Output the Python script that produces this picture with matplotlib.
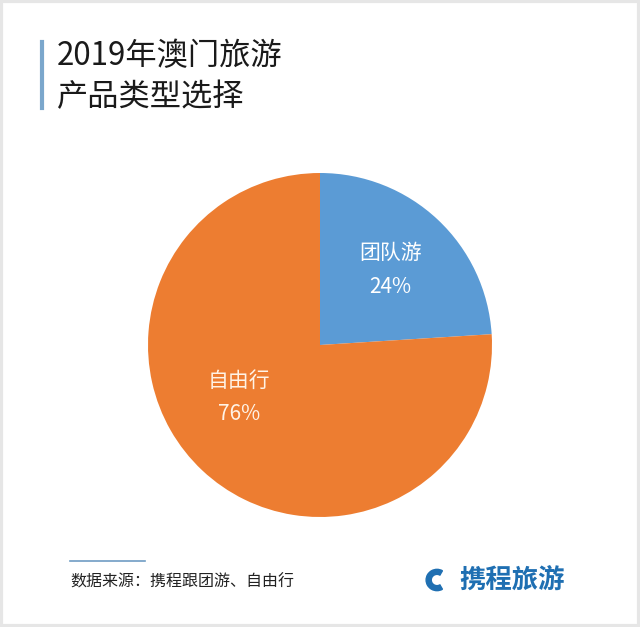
import matplotlib.pyplot as plt
from matplotlib.patches import Rectangle, Wedge
import numpy as np

plt.rcParams['font.family'] = ['Noto Sans CJK SC', 'DejaVu Sans']

# data
categories = ['团队游', '自由行']
shares = [24, 76]
colors = ['#5B9BD5', '#ED7D31']

W, H = 640, 627
fig = plt.figure(figsize=(W / 100, H / 100), dpi=100)
fig.patch.set_facecolor('white')

# light grey frame round the picture
fig.patches.append(Rectangle((0.002, 0.002), 0.996, 0.996, transform=fig.transFigure,
                             fill=False, edgecolor='#e6e6e6', linewidth=3))

# title with a blue bar on the left
fig.add_artist(plt.Line2D([42 / W, 42 / W], [1 - 42 / H, 1 - 108 / H], color='#7ba7cc', linewidth=3))
fig.text(57 / W, 1 - 56 / H, '2019年澳门旅游', fontsize=22.5, color='#1a1a1a', va='center', ha='left')
fig.text(57 / W, 1 - 97 / H, '产品类型选择', fontsize=22.5, color='#1a1a1a', va='center', ha='left')

# pie
cx, cy, r = 320, 345, 172
ax = fig.add_axes([(cx - r) / W, (H - cy - r) / H, 2 * r / W, 2 * r / H])
wedges, _ = ax.pie(shares, colors=colors, startangle=90, counterclock=False,
                   radius=1, wedgeprops=dict(linewidth=0))
ax.set_xlim(-1, 1)
ax.set_ylim(-1, 1)
ax.set_aspect('equal')
ax.axis('off')

# labels
w0 = wedges[0]
mid = np.deg2rad((w0.theta1 + w0.theta2) / 2)
lx, ly = 0.6 * np.cos(mid), 0.6 * np.sin(mid)
ax.text(lx, ly + 0.1, categories[0], color='white', fontsize=15, ha='center', va='center')
ax.text(lx, ly - 0.1, f'{shares[0]}%', color='white', fontsize=15, ha='center', va='center')
ax.text(-0.47, -0.21, categories[1], color='#fff3e6', fontsize=15, ha='center', va='center')
ax.text(-0.47, -0.40, f'{shares[1]}%', color='#fff3e6', fontsize=15, ha='center', va='center')

# footer
fig.add_artist(plt.Line2D([70 / W, 145 / W], [1 - 561 / H, 1 - 561 / H], color='#6f9cc4', linewidth=1.2))
fig.text(70 / W, 1 - 582 / H, '数据来源：携程跟团游、自由行', fontsize=11.5, color='#222222', va='center', ha='left')

# logo
fig.patches.append(Wedge((437 / W, 1 - 580 / H), 0.017, 60, 300, width=0.008,
                         transform=fig.transFigure, color='#1f6fb2'))
fig.text(459 / W, 1 - 580 / H, '携程旅游', fontsize=19, fontweight='bold', color='#1f6fb2',
         va='center', ha='left')

fig.savefig('out.png', dpi=100)
